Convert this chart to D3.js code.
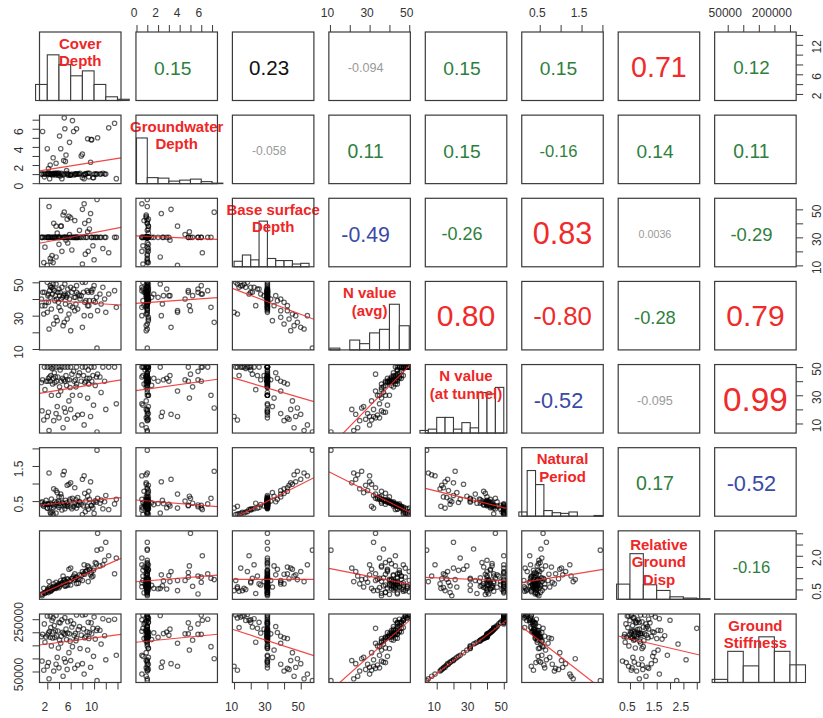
<!DOCTYPE html>
<html>
<head>
<meta charset="utf-8">
<script src="https://cdn.jsdelivr.net/npm/d3@7"></script>
<style>
  body { margin: 0; background: #fff; }
  svg { display: block; }
</style>
</head>
<body>
<svg id="chart" width="823" height="718"></svg>
<script>
// ---- variable names shown on the diagonal ----
const varLabels = [
  ["Cover", "Depth"],
  ["Groundwater", "Depth"],
  ["Base surface", "Depth"],
  ["N value", "(avg)"],
  ["N value", "(at tunnel)"],
  ["Natural", "Period"],
  ["Relative", "Ground", "Disp"],
  ["Ground", "Stiffness"]
];

// ---- observations: one entry per site, same order in every array ----
const coverDepth = [
  2.5, 3.0, 4.5, 5.5, 7.0, 8.5, 9.5, 11.5, 1.5, 3.5,
  6.0, 10.0, 13.5, 2.0, 4.0, 8.0, 12.5, 5.0, 3.2, 6.5,
  9.0, 2.8, 10.6, 7.5, 4.2, 2.2, 3.8, 5.2, 6.8, 8.8,
  9.8, 11.0, 1.2, 2.6, 4.6, 3.4, 5.8, 7.3, 9.2, 2.4,
  6.2, 4.8, 8.2, 3.0, 10.4, 5.5, 2.1, 3.6, 5.0, 6.6,
  8.6, 9.6, 1.8, 4.4, 7.8, 11.8, 2.9, 5.3, 6.9, 9.1,
  3.3, 4.1, 10.2, 1.0, 5.9, 7.0, 2.5, 8.4, 3.9, 6.3,
  8.9, 2.7, 5.7, 11.2, 4.3, 7.6, 1.6, 10.5, 2.3, 4.7,
  8.3, 3.1, 5.4, 1.4, 6.7, 9.4, 2.0, 4.0, 7.2, 3.5,
  5.1, 12.0, 1.1, 6.0, 2.2, 8.0, 3.7, 9.9, 4.9, 13.8
];
const groundwaterDepth = [
  1.0, 1.1, 0.5, 0.9, 6.0, 1.0, 4.8, 1.1, 0.7, 2.2,
  0.9, 1.0, 6.6, 1.0, 1.1, 0.6, 6.1, 1.0, 1.0, 5.7,
  1.1, 1.0, 5.0, 1.0, 0.8, 1.6, 0.9, 3.1, 1.0, 1.1,
  0.6, 1.0, 5.7, 1.0, 1.0, 0.9, 4.5, 1.0, 1.1, 0.5,
  1.0, 2.5, 0.9, 2.8, 1.0, 1.0, 1.1, 1.0, 6.0, 0.9,
  1.0, 4.8, 1.0, 1.1, 3.0, 1.0, 0.9, 1.4, 1.0, 0.7,
  1.1, 5.2, 1.0, 1.0, 0.9, 1.0, 2.0, 1.0, 1.1, 6.9,
  4.9, 1.0, 0.9, 1.0, 3.8, 1.1, 1.0, 1.0, 1.0, 0.9,
  0.5, 1.0, 1.1, 1.0, 1.0, 2.3, 3.8, 0.9, 1.0, 1.1,
  2.4, 1.0, 1.0, 0.9, 1.0, 3.2, 1.1, 0.6, 7.2, 0.5
];
const baseSurfaceDepth = [
  15, 12, 20, 30, 30, 18, 30, 22, 30, 16,
  30, 14, 30, 30, 25, 11, 19, 30, 30, 30,
  20, 17, 30, 35, 30, 30, 30, 28, 30, 30,
  24, 30, 30, 13, 30, 30, 32, 30, 36, 30,
  21, 30, 30, 30, 30, 26, 30, 30, 30, 30,
  30, 30, 30, 38, 30, 30, 30, 30, 30, 42,
  30, 30, 30, 30, 30, 30, 30, 40, 30, 30,
  34, 30, 45, 30, 38, 30, 23, 57, 52, 46,
  54, 40, 43, 12, 42, 47, 10, 30, 30, 38,
  30, 30, 30, 44, 30, 50, 33, 30, 48, 30
];
const nValueAvg = [
  48, 49, 47, 46, 48, 50, 45, 47, 44, 49,
  47, 48, 45, 50, 46, 50, 43, 49, 45, 46,
  44, 47, 33, 42, 44, 43, 44, 42, 41, 45,
  46, 43, 44, 47, 41, 42, 40, 43, 39, 45,
  44, 42, 44, 46, 41, 43, 42, 40, 43, 41,
  39, 44, 38, 40, 42, 40, 43, 41, 37, 36,
  39, 42, 38, 40, 36, 44, 41, 38, 38, 35,
  36, 34, 31, 37, 33, 40, 36, 10.5, 22, 24,
  30, 25, 28, 31, 33, 30, 32, 35, 34, 29,
  37, 32, 36, 21, 38, 23, 27, 39, 26, 35
];
const nValueTunnel = [
  50, 50, 50, 50, 50, 50, 50, 50, 50, 50,
  50, 50, 50, 50, 50, 50, 50, 50, 46, 47,
  48, 49, 45, 46, 48, 42, 43, 44, 41, 42,
  44, 43, 41, 44, 42, 43, 41, 44, 42, 43,
  45, 41, 44, 42, 43, 41, 40, 40, 40, 40,
  40, 40, 40, 40, 40, 40, 38, 37, 36, 38,
  39, 36, 37, 39, 35.5, 38, 40, 39, 30, 30,
  28, 30, 26, 32, 33, 30, 34, 4, 5, 7,
  9, 12, 13, 12.5, 14, 15, 15, 14, 16, 17,
  18, 20, 19, 20, 18, 16.5, 22, 23, 21, 24
];
const naturalPeriod = [
  0.18, 0.13, 0.25, 0.35, 0.30, 0.20, 0.38, 0.28, 0.40, 0.16,
  0.33, 0.15, 0.42, 0.30, 0.32, 0.12, 0.26, 0.28, 0.36, 0.34,
  0.27, 0.19, 0.58, 0.48, 0.38, 0.40, 0.37, 0.36, 0.45, 0.35,
  0.30, 0.44, 0.39, 0.14, 0.46, 0.41, 0.50, 0.38, 0.55, 0.33,
  0.28, 0.43, 0.36, 0.31, 0.47, 0.40, 0.42, 0.46, 0.38, 0.44,
  0.50, 0.37, 0.52, 0.62, 0.41, 0.48, 0.40, 0.45, 0.54, 0.78,
  0.49, 0.44, 0.51, 0.45, 0.56, 0.39, 0.43, 0.72, 0.50, 0.58,
  0.64, 0.56, 0.98, 0.53, 0.70, 0.47, 0.44, 1.95, 1.30, 1.25,
  1.22, 0.85, 0.95, 0.35, 0.88, 1.05, 0.30, 0.62, 0.60, 0.80,
  0.52, 0.66, 0.48, 1.02, 0.41, 1.12, 0.74, 0.46, 1.35, 0.55
];
const relGroundDisp = [
  0.45, 0.62, 0.80, 0.95, 1.05, 1.30, 1.25, 1.60, 0.35, 0.55,
  0.70, 1.45, 1.20, 0.40, 0.75, 0.90, 2.00, 0.65, 0.60, 1.10,
  0.85, 0.50, 3.00, 1.15, 0.72, 0.55, 0.68, 0.85, 0.95, 1.35,
  1.10, 1.55, 0.30, 0.42, 0.80, 0.58, 0.90, 0.78, 1.40, 0.62,
  1.00, 0.88, 1.20, 0.52, 1.65, 0.70, 0.48, 0.66, 0.82, 0.92,
  1.30, 1.05, 0.38, 0.74, 1.12, 1.80, 0.60, 0.68, 1.02, 1.50,
  0.57, 0.64, 1.70, 0.28, 0.86, 0.76, 0.53, 1.18, 0.70, 1.00,
  1.55, 0.46, 1.40, 2.30, 0.90, 0.95, 0.32, 2.25, 0.85, 1.10,
  1.60, 0.75, 0.98, 0.55, 1.20, 1.15, 0.45, 0.58, 0.96, 0.82,
  0.66, 2.60, 0.22, 1.45, 0.36, 1.30, 0.61, 1.35, 0.94, 1.90
];
const groundStiffness = [
  262000, 255000, 248000, 240000, 266000, 268000, 236000, 252000, 232000, 264000,
  244000, 258000, 250000, 262000, 238000, 266000, 246000, 256000, 226000, 232000,
  238000, 245000, 215000, 222000, 236000, 198000, 205000, 212000, 196000, 202000,
  215000, 208000, 192000, 218000, 200000, 206000, 194000, 210000, 199000, 204000,
  220000, 195000, 213000, 201000, 207000, 197000, 190000, 186000, 192000, 188000,
  184000, 194000, 182000, 185000, 189000, 187000, 178000, 172000, 168000, 176000,
  180000, 170000, 174000, 183000, 166000, 177000, 181000, 179000, 140000, 145000,
  132000, 148000, 122000, 155000, 158000, 138000, 162000, 15000, 22000, 32000,
  40000, 52000, 58000, 55000, 62000, 66000, 70000, 64000, 75000, 78000,
  86000, 95000, 90000, 92000, 84000, 80000, 104000, 108000, 99000, 112000
];

// ---- axis limits of each variable (data units) ----
const cdLimits = [0.67, 14.6];
const gwLimits = [-0.05, 7.5];
const bsdLimits = [9.0, 57.9];
const naLimits = [9.45, 50.55];
const ntLimits = [3.2, 51.8];
const npLimits = [0.07, 2.02];
const rgdLimits = [0.06, 3.11];
const gsLimits = [8000, 270000];

// ---- tick marks and the labels printed on them ----
const cdTicks = [2, 4, 6, 8, 10, 12, 14];
const gwTicks = [0, 1, 2, 3, 4, 5, 6, 7];
const bsdTicks = [10, 20, 30, 40, 50];
const naTicks = [10, 20, 30, 40, 50];
const ntTicks = [10, 20, 30, 40, 50];
const npTicks = [0.5, 1.0, 1.5, 2.0];
const rgdTicks = [0.5, 1.0, 1.5, 2.0, 2.5, 3.0];
const gsTicks = [50000, 100000, 150000, 200000, 250000];

const cdLabelsH = ["2", "6", "10"],        cdLabelsV = ["2", "6", "12"];
const gwLabelsH = ["0", "2", "4", "6"],    gwLabelsV = ["0", "2", "4", "6"];
const bsdLabelsH = ["10", "30", "50"],     bsdLabelsV = ["10", "30", "50"];
const naLabelsH = ["10", "30", "50"],      naLabelsV = ["10", "30", "50"];
const ntLabelsH = ["10", "30", "50"],      ntLabelsV = ["10", "30", "50"];
const npLabelsH = ["0.5", "1.5"],          npLabelsV = ["0.5", "1.5"];
const rgdLabelsH = ["0.5", "1.5", "2.5"],  rgdLabelsV = ["0.5", "2.0"];
const gsLabelsH = ["50000", "200000"],     gsLabelsV = ["50000", "250000"];

// ---- histogram breaks and counts (diagonal) ----
const cdBreaks = [0, 2, 4, 6, 8, 10, 12, 14, 16];
const cdCounts = [13, 37, 29, 20, 24, 13, 3, 1];
const gwBreaks = [0, 1, 2, 3, 4, 5, 6, 7, 8];
const gwCounts = [91, 12, 11, 5, 7, 9, 4, 1];
const bsdBreaks = [10, 15, 20, 25, 30, 35, 40, 45, 50, 55];
const bsdCounts = [8, 17, 10, 66, 12, 9, 9, 4, 5];
const naBreaks = [10, 15, 20, 25, 30, 35, 40, 45, 50];
const naCounts = [2, 0, 11, 7, 19, 23, 51, 27];
const ntBreaks = [0, 5, 10, 15, 20, 25, 30, 35, 40, 45, 50];
const ntCounts = [2, 3, 12, 12, 3, 8, 4, 31, 30, 35];
const npBreaks = [0, 0.2, 0.4, 0.6, 0.8, 1.0, 1.2, 1.4, 1.6, 1.8, 2.0];
const npCounts = [6, 65, 45, 8, 5, 4, 6, 0, 0, 1];
const rgdBreaks = [0, 0.5, 1.0, 1.5, 2.0, 2.5, 3.0, 3.5];
const rgdCounts = [24, 72, 23, 14, 4, 2, 1];
const gsBreaks = [0, 50000, 100000, 150000, 200000, 250000, 300000];
const gsCounts = [3, 30, 16, 44, 30, 17];

// ---- least-squares lines of the lower panels (row by row, y = a + b*x) ----
const fitIntercept = [
  1.29,
  25.25, 30.98,
  39.55, 37.42, 49.82,
  30.94, 33.35, 45.63, -20.77,
  0.379, 0.53, -0.226, 1.605, 0.901,
  0.206, 0.846, 0.95, 1.604, 1.05, 0.779,
  149400, 162000, 230100, -92800, -6900, 230100, 187300
];
const fitSlope = [
  0.103,
  0.818, -0.318,
  -0.215, 0.45, -0.380,
  0.682, 1.073, -0.348, 1.435,
  0.0149, -0.0253, 0.02405, -0.0284, -0.0117,
  0.115, 0.039, 0, -0.01732, -0.00313, 0.306,
  2943, 4053, -2065, 6748, 4906, -124300, -23840
];

// ---- Pearson correlations of the upper panels (row by row) ----
const corText = [
  "0.15", "0.23", "-0.094", "0.15", "0.15", "0.71", "0.12",
  "-0.058", "0.11", "0.15", "-0.16", "0.14", "0.11",
  "-0.49", "-0.26", "0.83", "0.0036", "-0.29",
  "0.80", "-0.80", "-0.28", "0.79",
  "-0.52", "-0.095", "0.99",
  "0.17", "-0.52",
  "-0.16"
];
const corTone = [
  "g", "k", "n", "g", "g", "r", "g",
  "n", "g", "g", "g", "g", "g",
  "b", "g", "r", "n", "g",
  "r", "r", "g", "r",
  "b", "n", "r",
  "g", "b",
  "g"
];

// ---------------------------------------------------------------
const FONT = '"Liberation Sans", Arial, Helvetica, sans-serif';
const toneColor = { r: "#ef2b2b", b: "#3b4aa6", g: "#2e7f3e", n: "#9a9a9a", k: "#111111" };
const RED = "#ef2626";
const INK = "#3a3a3a";

const W = 81.5, H = 68.5;
const X0 = 39.5, Y0 = 32, DX = 96.45, DY = 83.14;
const px = j => X0 + j * DX;
const py = i => Y0 + i * DY;

const cols = [coverDepth, groundwaterDepth, baseSurfaceDepth, nValueAvg,
              nValueTunnel, naturalPeriod, relGroundDisp, groundStiffness];
const limits = [cdLimits, gwLimits, bsdLimits, naLimits, ntLimits, npLimits, rgdLimits, gsLimits];
const ticks = [cdTicks, gwTicks, bsdTicks, naTicks, ntTicks, npTicks, rgdTicks, gsTicks];
const labelsH = [cdLabelsH, gwLabelsH, bsdLabelsH, naLabelsH, ntLabelsH, npLabelsH, rgdLabelsH, gsLabelsH];
const labelsV = [cdLabelsV, gwLabelsV, bsdLabelsV, naLabelsV, ntLabelsV, npLabelsV, rgdLabelsV, gsLabelsV];
const breaks = [cdBreaks, gwBreaks, bsdBreaks, naBreaks, ntBreaks, npBreaks, rgdBreaks, gsBreaks];
const counts = [cdCounts, gwCounts, bsdCounts, naCounts, ntCounts, npCounts, rgdCounts, gsCounts];
const NV = cols.length;
const NOBS = coverDepth.length;

const xs = limits.map((lim, j) => d3.scaleLinear().domain(lim).range([px(j), px(j) + W]));
const ys = limits.map((lim, i) => d3.scaleLinear().domain(lim).range([py(i) + H, py(i)]));

const svg = d3.select("#chart").style("font-family", FONT);
svg.append("rect").attr("width", 823).attr("height", 718).attr("fill", "#fff");
const defs = svg.append("defs");

// ---- lower panels: scatter + fitted line ----
let f = 0;
for (let i = 1; i < NV; i++) {
  for (let j = 0; j < i; j++) {
    const id = `clip-${i}-${j}`;
    defs.append("clipPath").attr("id", id)
      .append("rect").attr("x", px(j)).attr("y", py(i)).attr("width", W).attr("height", H);
    const g = svg.append("g").attr("clip-path", `url(#${id})`);
    g.selectAll("circle").data(d3.range(NOBS)).join("circle")
      .attr("cx", k => xs[j](cols[j][k]))
      .attr("cy", k => ys[i](cols[i][k]))
      .attr("r", 2.2)
      .attr("fill", "none")
      .attr("stroke", "#000")
      .attr("stroke-opacity", 0.62)
      .attr("stroke-width", 1.2);
    const a = fitIntercept[f], b = fitSlope[f];
    const [x0, x1] = limits[j];
    g.append("line")
      .attr("x1", xs[j](x0)).attr("y1", ys[i](a + b * x0))
      .attr("x2", xs[j](x1)).attr("y2", ys[i](a + b * x1))
      .attr("stroke", RED).attr("stroke-opacity", 0.85).attr("stroke-width", 1.2);
    f++;
  }
}

// ---- diagonal: histograms and variable names ----
for (let v = 0; v < NV; v++) {
  const br = breaks[v], ct = counts[v];
  const hy = d3.scaleLinear().domain([0, 1.5 * d3.max(ct)]).range([py(v) + H, py(v)]);
  svg.append("g").selectAll("rect").data(ct).join("rect")
    .attr("x", (c, k) => xs[v](br[k]))
    .attr("width", (c, k) => xs[v](br[k + 1]) - xs[v](br[k]))
    .attr("y", c => hy(c))
    .attr("height", c => hy(0) - hy(c))
    .attr("fill", "#fff")
    .attr("stroke", INK)
    .attr("stroke-width", 1.1);

  const lines = varLabels[v];
  const lineGap = 17.5;
  const centre = py(v) + 20 + (lines.length - 2) * 11;
  const first = centre - (lines.length - 1) * lineGap / 2;
  const t = svg.append("text")
    .attr("text-anchor", "middle")
    .attr("font-size", 15)
    .attr("font-weight", "bold")
    .attr("fill", RED);
  lines.forEach((s, k) => {
    t.append("tspan")
      .attr("x", px(v) + W / 2)
      .attr("y", first + k * lineGap + 5.4)
      .text(s);
  });
}

// ---- upper panels: correlation coefficients ----
const probe = svg.append("text").attr("font-size", 10);
let c = 0;
for (let i = 0; i < NV; i++) {
  for (let j = i + 1; j < NV; j++) {
    const s = corText[c];
    const r = Math.abs(+s);
    probe.text(s);
    const w10 = probe.node().getComputedTextLength();
    const fs = 10 * (0.8 * W * (1 + r) / 2) / w10;
    const dx = r >= 0.7 ? 0 : -4;
    const dy = r >= 0.7 ? 0 : 1.5;
    svg.append("text")
      .attr("x", px(j) + W / 2 + dx)
      .attr("y", py(i) + H / 2 + dy + 0.358 * fs)
      .attr("text-anchor", "middle")
      .attr("font-size", fs)
      .attr("fill", toneColor[corTone[c]])
      .text(s);
    c++;
  }
}
probe.remove();

// ---- axes (alternating sides, as in a pairs plot) ----
function fmtFor(list) {
  const m = new Map(list.map(s => [+s, s]));
  return d => (m.has(+d) ? m.get(+d) : "");
}
function styleAxis(g) {
  g.select(".domain").remove();
  g.selectAll(".tick line").attr("stroke", INK);
  g.selectAll(".tick text").attr("fill", "#333").attr("font-size", 12).style("font-family", FONT);
}
const TK = 7;
for (let v = 0; v < NV; v++) {
  if (v % 2 === 1) {
    // top of column v
    svg.append("g").attr("transform", `translate(0,${py(0)})`)
      .call(d3.axisTop(xs[v]).tickValues(ticks[v]).tickSize(TK).tickSizeOuter(0).tickFormat(fmtFor(labelsH[v])))
      .call(styleAxis)
      .call(g => g.selectAll(".tick text").attr("x", -3).attr("y", -15.3).attr("dy", 0));
    // left of row v
    svg.append("g").attr("transform", `translate(${px(0)},0)`)
      .call(d3.axisLeft(ys[v]).tickValues(ticks[v]).tickSize(TK).tickSizeOuter(0).tickFormat(fmtFor(labelsV[v])))
      .call(styleAxis)
      .call(g => g.selectAll(".tick text")
        .attr("transform", "rotate(-90)")
        .attr("text-anchor", "middle")
        .attr("x", -2.5).attr("y", -16.8).attr("dy", 0));
  } else {
    // bottom of column v
    svg.append("g").attr("transform", `translate(0,${py(NV - 1) + H})`)
      .call(d3.axisBottom(xs[v]).tickValues(ticks[v]).tickSize(TK).tickSizeOuter(0).tickFormat(fmtFor(labelsH[v])))
      .call(styleAxis)
      .call(g => g.selectAll(".tick text").attr("x", -3).attr("y", 29).attr("dy", 0));
    // right of row v
    svg.append("g").attr("transform", `translate(${px(NV - 1) + W},0)`)
      .call(d3.axisRight(ys[v]).tickValues(ticks[v]).tickSize(TK).tickSizeOuter(0).tickFormat(fmtFor(labelsV[v])))
      .call(styleAxis)
      .call(g => g.selectAll(".tick text")
        .attr("transform", "rotate(-90)")
        .attr("text-anchor", "middle")
        .attr("x", -1.5).attr("y", 24.5).attr("dy", 0));
  }
}

// ---- panel frames ----
for (let i = 0; i < NV; i++) {
  for (let j = 0; j < NV; j++) {
    svg.append("rect")
      .attr("x", px(j)).attr("y", py(i))
      .attr("width", W).attr("height", H)
      .attr("fill", "none")
      .attr("stroke", INK)
      .attr("stroke-width", 1.2);
  }
}
</script>
</body>
</html>
